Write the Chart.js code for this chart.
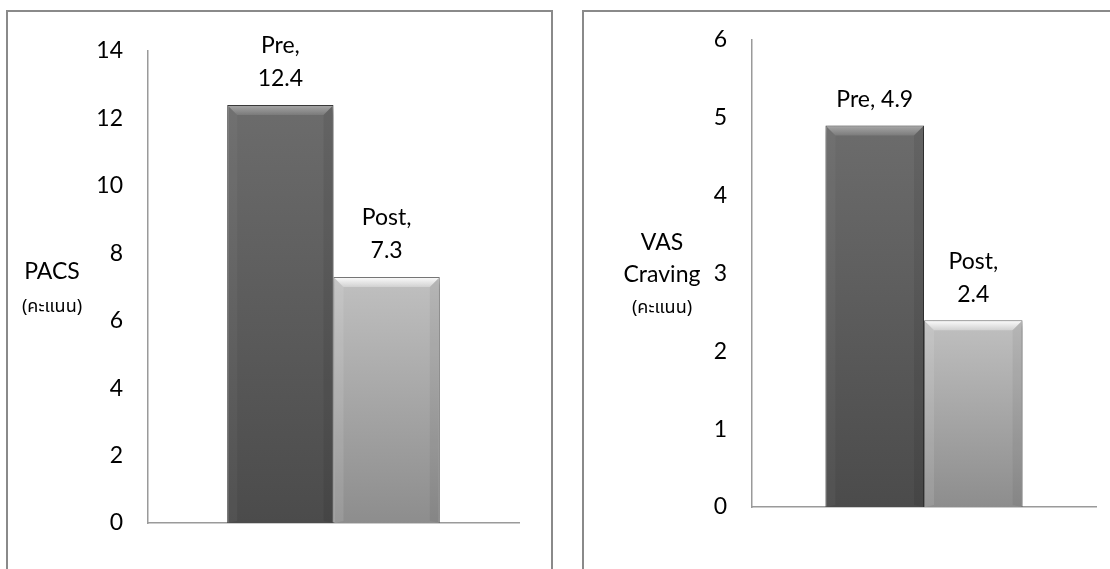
<!DOCTYPE html>
<html>
<head>
<meta charset="utf-8">
<script src="https://cdn.jsdelivr.net/npm/chart.js@4/dist/chart.umd.min.js"></script>
<style>
  html, body { margin: 0; padding: 0; background: #ffffff; overflow: hidden; }
  body { width: 1110px; height: 569px; position: relative; }
  .panel { position: absolute; top: 10px; border: 2px solid #8a8a8a; background: #fff; }
  #pacsPanel { left: 6px; width: 543px; height: 600px; }
  #vasPanel { left: 582px; width: 560px; height: 600px; }
  .panel canvas { position: absolute; left: 0; top: 0; }
</style>
</head>
<body>
<div class="panel" id="pacsPanel"><canvas id="pacsChart"></canvas></div>
<div class="panel" id="vasPanel"><canvas id="vasChart"></canvas></div>
<script>
// Series shown in both panels
const seriesNames = ['Pre', 'Post'];

// PACS scores (คะแนน)
const pacsValues = [12.4, 7.3];
const pacsTickMax = 14;
const pacsTickStep = 2;
const pacsLabelWrap = [true, true];

// VAS Craving scores (คะแนน)
const vasValues = [4.9, 2.4];
const vasTickMax = 6;
const vasTickStep = 1;
const vasLabelWrap = [false, true];

const FONT = "Lato, 'Noto Sans Thai', 'Noto Sans', 'DejaVu Sans', sans-serif";
const THAI_FONT = "'Noto Sans Thai', 'Noto Sans Thai UI', 'Noto Sans', 'DejaVu Sans', sans-serif";
const TEXT_SIZE = 23;

// fill colours of the two series: [top, bottom]
const seriesShades = [['#6c6c6c', '#4b4b4b'], ['#c0c0c0', '#8d8d8d']];
const seriesEdges = ['#3c3c3c', '#7b7b7b'];

function barGradient(ctx) {
  const chart = ctx.chart;
  const shades = seriesShades[ctx.datasetIndex];
  const ys = chart.scales && chart.scales.y;
  if (!chart.chartArea || !ys) return shades[1];
  const top = ys.getPixelForValue(ctx.raw);
  const bottom = ys.getPixelForValue(0);
  const g = chart.ctx.createLinearGradient(0, top, 0, bottom);
  g.addColorStop(0, shades[0]);
  g.addColorStop(1, shades[1]);
  return g;
}

// soft drop shadow under the bars
const barShadow = {
  id: 'barShadow',
  beforeDatasetsDraw(chart) {
    const c = chart.ctx;
    c.save();
    c.shadowColor = 'rgba(0,0,0,0.35)';
    c.shadowBlur = 7;
    c.shadowOffsetX = 2;
    c.shadowOffsetY = 3;
  },
  afterDatasetsDraw(chart) {
    chart.ctx.restore();
  }
};

// bevelled edges on each bar
const barBevel = {
  id: 'barBevel',
  afterDatasetsDraw(chart) {
    const c = chart.ctx;
    chart.data.datasets.forEach((ds, di) => {
      const meta = chart.getDatasetMeta(di);
      const light = di === 1;
      meta.data.forEach(el => {
        const p = el.getProps(['x', 'y', 'base', 'width'], true);
        const l = p.x - p.width / 2 + 1, r = p.x + p.width / 2 - 1;
        const t = p.y + 1, b = p.base;
        const s = 9;
        c.save();
        // top face
        const gt = c.createLinearGradient(0, t, 0, t + s);
        gt.addColorStop(0, light ? 'rgba(255,255,255,0.9)' : 'rgba(255,255,255,0.38)');
        gt.addColorStop(1, light ? 'rgba(255,255,255,0.3)' : 'rgba(255,255,255,0.1)');
        c.fillStyle = gt;
        c.beginPath();
        c.moveTo(l, t); c.lineTo(r, t); c.lineTo(r - s, t + s); c.lineTo(l + s, t + s); c.closePath();
        c.fill();
        // left face
        c.fillStyle = light ? 'rgba(255,255,255,0.10)' : 'rgba(255,255,255,0.04)';
        c.beginPath();
        c.moveTo(l, t); c.lineTo(l + s, t + s); c.lineTo(l + s, b - 2); c.lineTo(l, b); c.closePath();
        c.fill();
        // right face
        c.fillStyle = light ? 'rgba(0,0,0,0.05)' : 'rgba(0,0,0,0.07)';
        c.beginPath();
        c.moveTo(r, t); c.lineTo(r - s, t + s); c.lineTo(r - s, b - 2); c.lineTo(r, b); c.closePath();
        c.fill();
        c.restore();
      });
    });
  }
};

// "Series, value" labels above the bars
const seriesValueLabels = {
  id: 'seriesValueLabels',
  afterDatasetsDraw(chart, args, opts) {
    const c = chart.ctx;
    c.save();
    c.font = TEXT_SIZE + 'px ' + FONT;
    c.fillStyle = '#000000';
    c.textAlign = 'center';
    c.textBaseline = 'middle';
    chart.data.datasets.forEach((ds, di) => {
      const meta = chart.getDatasetMeta(di);
      meta.data.forEach((el, i) => {
        const v = ds.data[i];
        const lines = opts.wrap[di] ? [ds.label + ',', String(v)] : [ds.label + ', ' + v];
        const lastY = el.y - 26;
        lines.forEach((txt, k) => {
          c.fillText(txt, el.x, lastY - (lines.length - 1 - k) * 33);
        });
      });
    });
    c.restore();
  }
};

// stacked y-axis caption to the left of the tick labels
const axisCaption = {
  id: 'axisCaption',
  afterDraw(chart, args, opts) {
    const c = chart.ctx;
    const area = chart.chartArea;
    const mid = (area.top + area.bottom) / 2;
    c.save();
    c.fillStyle = '#000000';
    c.textAlign = 'center';
    c.textBaseline = 'middle';
    opts.lines.forEach(ln => {
      c.font = ln.font;
      c.fillText(ln.text, opts.x, mid + ln.dy);
    });
    c.restore();
  }
};

function makeChart(id, w, h, values, tickMax, tickStep, wrap, padding, yWidth, caption) {
  const canvas = document.getElementById(id);
  canvas.width = w; canvas.height = h;
  canvas.style.width = w + 'px'; canvas.style.height = h + 'px';
  return new Chart(canvas, {
    type: 'bar',
    data: {
      labels: [''],
      datasets: seriesNames.map((name, i) => ({
        label: name,
        data: [values[i]],
        backgroundColor: barGradient,
        borderColor: seriesEdges[i],
        borderWidth: 1
      }))
    },
    options: {
      responsive: false,
      animation: false,
      devicePixelRatio: 1,
      layout: { padding: padding },
      categoryPercentage: 0.573,
      barPercentage: 1,
      plugins: {
        legend: { display: false },
        tooltip: { enabled: false },
        seriesValueLabels: { wrap: wrap },
        axisCaption: caption
      },
      scales: {
        x: {
          grid: { display: false, drawTicks: false },
          border: { display: true, color: '#9a9a9a', width: 1.5 },
          ticks: { display: false },
          afterFit(s) { s.height = 0; }
        },
        y: {
          min: 0,
          max: tickMax,
          grid: { display: false, drawTicks: false },
          border: { display: true, color: '#9a9a9a', width: 1.5 },
          ticks: {
            stepSize: tickStep,
            padding: 25,
            color: '#000000',
            font: { family: FONT, size: TEXT_SIZE }
          },
          afterFit(s) {
            s.width = yWidth;
            s.paddingTop = 0;
            s.paddingBottom = 0;
          }
        }
      }
    },
    plugins: [barShadow, barBevel, seriesValueLabels, axisCaption]
  });
}

makeChart('pacsChart', 543, 558, pacsValues, pacsTickMax, pacsTickStep, pacsLabelWrap,
  { left: 0, top: 39, right: 32, bottom: 47 }, 140,
  { x: 44, lines: [
    { text: 'PACS', font: TEXT_SIZE + 'px ' + FONT, dy: -15 },
    { text: '(คะแนน)', font: '18px ' + THAI_FONT, dy: 21 }
  ] });

makeChart('vasChart', 526, 558, vasValues, vasTickMax, vasTickStep, vasLabelWrap,
  { left: 0, top: 28, right: 14, bottom: 63 }, 168,
  { x: 78, lines: [
    { text: 'VAS', font: TEXT_SIZE + 'px ' + FONT, dy: -31 },
    { text: 'Craving', font: TEXT_SIZE + 'px ' + FONT, dy: 1 },
    { text: '(คะแนน)', font: '18px ' + THAI_FONT, dy: 36 }
  ] });
</script>
</body>
</html>
